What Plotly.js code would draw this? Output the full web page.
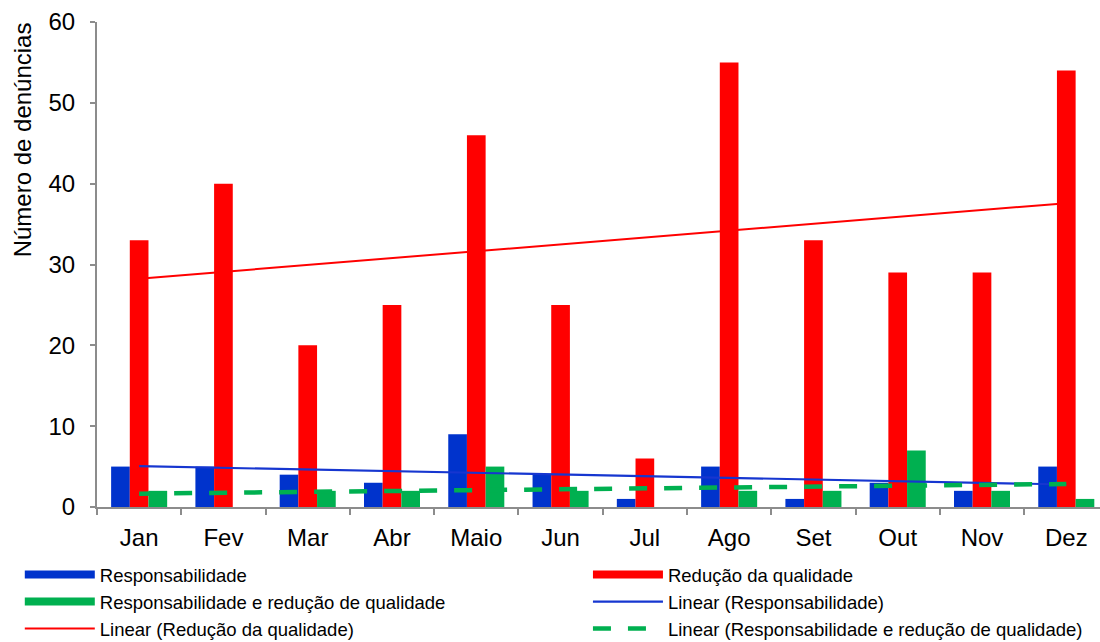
<!DOCTYPE html>
<html>
<head>
<meta charset="utf-8">
<script src="https://cdn.plot.ly/plotly-3.0.1.min.js"></script>
<style>
  html, body { margin: 0; padding: 0; background: #fff; }
  #chart { width: 1100px; height: 642px; }
</style>
</head>
<body>
<div id="chart"></div>
<script>
const months = ['Jan', 'Fev', 'Mar', 'Abr', 'Maio', 'Jun', 'Jul', 'Ago', 'Set', 'Out', 'Nov', 'Dez'];
const responsabilidade = [5, 5, 4, 3, 9, 4, 1, 5, 1, 3, 2, 5];
const reducaoQualidade = [33, 40, 20, 25, 46, 25, 6, 55, 33, 29, 29, 54];
const respEReducao = [2, 0, 2, 2, 5, 2, 0, 2, 2, 7, 2, 1];

const seriesNames = ['Responsabilidade', 'Redução da qualidade', 'Responsabilidade e redução de qualidade'];
const seriesColors = ['#0033CC', '#FF0000', '#00B050'];
// which of the two legend columns each bar-series entry goes to
const barLegendColumn = ['legend', 'legend2', 'legend'];

// Excel-style linear trendline (least squares over category index 1..n)
function linearTrend(values) {
  const n = values.length;
  const xs = values.map((_, i) => i + 1);
  const mx = xs.reduce((a, b) => a + b, 0) / n;
  const my = values.reduce((a, b) => a + b, 0) / n;
  let sxy = 0, sxx = 0;
  for (let i = 0; i < n; i++) { sxy += (xs[i] - mx) * (values[i] - my); sxx += (xs[i] - mx) ** 2; }
  const slope = sxy / sxx;
  const intercept = my - slope * mx;
  return xs.map(x => intercept + slope * x);
}

const FONT = 'Liberation Sans, Arial, Helvetica, sans-serif';
const dataSets = [responsabilidade, reducaoQualidade, respEReducao];

const traces = [];
// bars
dataSets.forEach((vals, i) => {
  traces.push({
    type: 'bar', x: months, y: vals, name: seriesNames[i],
    marker: { color: seriesColors[i] }, showlegend: false, legendgroup: 'g' + i,
    hovertemplate: '%{x}: %{y}<extra>' + seriesNames[i] + '</extra>'
  });
});
// legend proxies for bars (wide rectangles)
dataSets.forEach((vals, i) => {
  traces.push({
    type: 'scatter', mode: 'lines', x: [null], y: [null], name: seriesNames[i],
    line: { color: seriesColors[i], width: 8 }, legendgroup: 'g' + i, hoverinfo: 'skip',
    legend: barLegendColumn[i]
  });
});
// trendlines
traces.push({
  type: 'scatter', mode: 'lines', x: months, y: linearTrend(responsabilidade),
  name: 'Linear (Responsabilidade)', line: { color: '#1636D0', width: 2.2 }, hoverinfo: 'skip',
  legend: 'legend2'
});
traces.push({
  type: 'scatter', mode: 'lines', x: months, y: linearTrend(reducaoQualidade),
  name: 'Linear (Redução da qualidade)', line: { color: '#FF0000', width: 2 }, hoverinfo: 'skip',
  legend: 'legend'
});
traces.push({
  type: 'scatter', mode: 'lines', x: months, y: linearTrend(respEReducao),
  name: 'Linear (Responsabilidade e redução de qualidade)',
  line: { color: '#00B050', width: 4.5, dash: '18px,17px' }, hoverinfo: 'skip',
  legend: 'legend2'
});

const axisGray = '#8C8C8C';
const legendBase = {
  orientation: 'v', xref: 'container', yref: 'container',
  y: 0.134, xanchor: 'left', yanchor: 'top', itemwidth: 70,
  font: { size: 18.5, family: FONT, color: '#000' },
  traceorder: 'normal', bgcolor: 'rgba(0,0,0,0)', tracegroupgap: 0
};
const layout = {
  width: 1100, height: 642,
  margin: { l: 97, r: 0, t: 22, b: 135, autoexpand: false },
  paper_bgcolor: '#FFFFFF', plot_bgcolor: '#FFFFFF',
  font: { family: FONT, color: '#000000' },
  barmode: 'group', bargap: 0.335, bargroupgap: 0,
  xaxis: {
    type: 'category', range: [-0.5, 11.4], tickangle: 0, automargin: false,
    showline: true, linecolor: axisGray, linewidth: 2,
    ticks: 'outside', tickson: 'boundaries', ticklen: 6, tickwidth: 2, tickcolor: axisGray,
    tickfont: { size: 24, family: FONT, color: '#000' }, ticklabelstandoff: 8,
    showgrid: false, zeroline: false, fixedrange: true
  },
  yaxis: {
    range: [0, 60], dtick: 10, automargin: false,
    showline: true, linecolor: axisGray, linewidth: 2,
    ticks: 'outside', ticklen: 5, tickwidth: 2, tickcolor: axisGray,
    tickfont: { size: 24, family: FONT, color: '#000' }, ticklabelstandoff: 10,
    showgrid: false, zeroline: false, fixedrange: true
  },
  annotations: [{
    text: 'Número de denúncias', textangle: -90,
    xref: 'paper', yref: 'paper', x: -0.0748, y: 0.758,
    xanchor: 'center', yanchor: 'middle', showarrow: false,
    font: { size: 24, family: FONT, color: '#000' }
  }],
  showlegend: true,
  legend: Object.assign({}, legendBase, { x: 0.018 }),
  legend2: Object.assign({}, legendBase, { x: 0.5345 })
};

Plotly.newPlot('chart', traces, layout, { displayModeBar: false });
</script>
</body>
</html>
